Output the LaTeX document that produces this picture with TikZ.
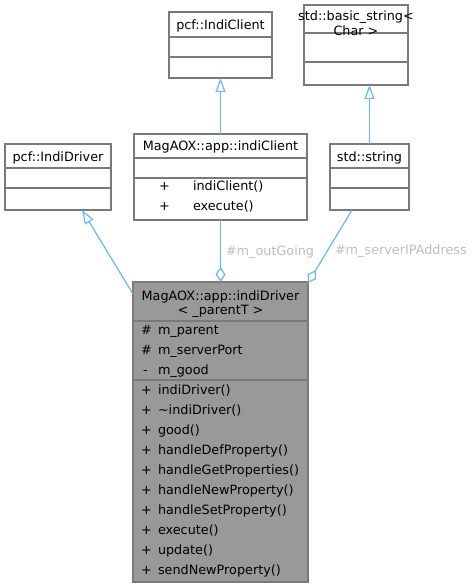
\documentclass[tikz,border=0pt]{standalone}
\usepackage{fontspec}
\setmainfont{DejaVu Sans}
\usetikzlibrary{arrows.meta,calc}
\definecolor{edgec}{HTML}{63B8FF}
\definecolor{bord}{HTML}{7A7A7A}
\definecolor{mainfill}{HTML}{999999}
\definecolor{lbl}{HTML}{BEBEBE}
\begin{document}
\begin{tikzpicture}[x=1pt,y=-1pt,
  cls/.style={draw=bord, line width=1.2pt, fill=white, inner sep=0pt, outer sep=0pt},
  mcls/.style={cls, fill=mainfill},
  divl/.style={draw=bord, line width=1.2pt},
  txt/.style={inner sep=0pt, outer sep=0pt, anchor=base, font=\fontsize{12.8}{14}\selectfont},
  mem/.style={txt, anchor=base west},
  elbl/.style={mem, text=lbl},
  conn/.style={draw=edgec, line width=1.2pt},
  inh/.style={conn, -{Triangle[open, length=14pt, width=10pt, fill=white]}},
  agg/.style={conn, -{Diamond[open, length=15pt, width=10pt, fill=white]}}
]
\useasboundingbox (0,0) rectangle (475,588);

% pcf::IndiClient
\node[cls, minimum width=103pt, minimum height=66pt] (IC) at (220.5,45) {};
\draw[divl] (IC.west |- 0,37) -- (IC.east |- 0,37);
\draw[divl] (IC.west |- 0,57) -- (IC.east |- 0,57);
\node[txt] (ICt) at (220.5,29.5) {pcf::IndiClient};

% std::basic_string< Char >
\node[cls, minimum width=104pt, minimum height=80pt] (BS) at (356,45) {};
\draw[divl] (BS.west |- 0,33) -- (BS.east |- 0,33);
\draw[divl] (BS.west |- 0,62) -- (BS.east |- 0,62);
\node[txt] (BSt1) at (356,20.5) {std::basic\_string\textless};
\node[txt] (BSt2) at (356,35.5) {Char \textgreater};

% pcf::IndiDriver
\node[cls, minimum width=106pt, minimum height=66pt] (ID) at (58,177) {};
\draw[divl] (ID.west |- 0,168) -- (ID.east |- 0,168);
\draw[divl] (ID.west |- 0,188) -- (ID.east |- 0,188);
\node[txt] (IDt) at (58,161.5) {pcf::IndiDriver};

% MagAOX::app::indiClient
\node[cls, minimum width=173pt, minimum height=86pt] (MC) at (220.5,177) {};
\draw[divl] (MC.west |- 0,158) -- (MC.east |- 0,158);
\draw[divl] (MC.west |- 0,178) -- (MC.east |- 0,178);
\node[txt] (MCt) at (220.5,150.5) {MagAOX::app::indiClient};
\node[mem] (MCp1) at (159,190.5) {+};
\node[mem] (MCm1) at (193,190.5) {indiClient()};
\node[mem] (MCp2) at (159,210.5) {+};
\node[mem] (MCm2) at (193,210.5) {execute()};

% std::string
\node[cls, minimum width=79pt, minimum height=66pt] (SS) at (369.5,177) {};
\draw[divl] (SS.west |- 0,168) -- (SS.east |- 0,168);
\draw[divl] (SS.west |- 0,188) -- (SS.east |- 0,188);
\node[txt] (SSt) at (369.5,161.5) {std::string};

% MagAOX::app::indiDriver< _parentT >
\node[mcls, minimum width=175pt, minimum height=300pt] (MD) at (220.5,432) {};
\draw[divl] (MD.west |- 0,321) -- (MD.east |- 0,321);
\draw[divl] (MD.west |- 0,380) -- (MD.east |- 0,380);
\node[txt] (MDt1) at (220.5,300.5) {MagAOX::app::indiDriver};
\node[txt] (MDt2) at (220.5,314.5) {\textless{} \_parentT \textgreater};
\node[mem] (MDa1s) at (141,334.5) {\#};
\node[mem] (MDa1) at (158,334.5) {m\_parent};
\node[mem] (MDa2s) at (141,354.5) {\#};
\node[mem] (MDa2) at (158,354.5) {m\_serverPort};
\node[mem] (MDa3s) at (143,374.5) {-};
\node[mem] (MDa3) at (158,374.5) {m\_good};
\foreach \n [count=\i from 0] in {indiDriver(), \textasciitilde indiDriver(), good(), handleDefProperty(), handleGetProperties(), handleNewProperty(), handleSetProperty(), execute(), update(), sendNewProperty()} {
  \node[mem] (MDs\i) at (141,394.5+20*\i) {+};
  \node[mem] (MDm\i) at (158,394.5+20*\i) {\n};
}

% connectors
\draw[inh] (MC.north) -- (IC.south);
\draw[inh] (SS.north) -- (BS.south -| SS.north);
\draw[inh] ($(MD.north west)+(0,12)$) -- ($(ID.south)+(24,0)$);
\draw[agg] (MC.south) -- (MD.north);
\draw[agg] ($(SS.south)+(-17.5,0)$) -- ($(MD.north east)+(0,1)$);
\node[elbl] (L1) at (226,255.5) {\#m\_outGoing};
\node[elbl] (L2) at (335,254.5) {\#m\_serverIPAddress};
\end{tikzpicture}
\end{document}
